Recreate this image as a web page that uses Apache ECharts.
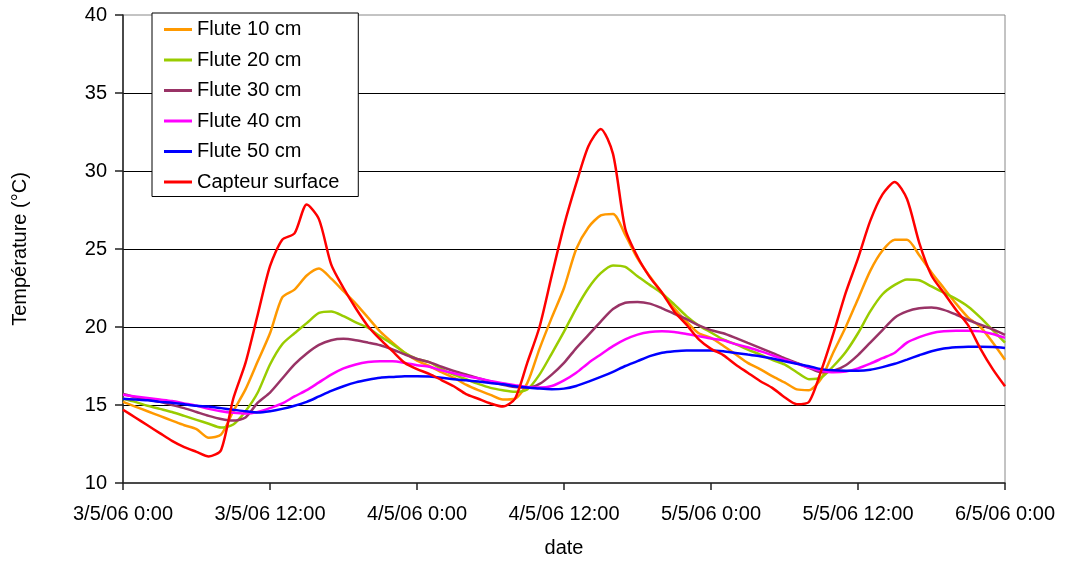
<!DOCTYPE html>
<html>
<head>
<meta charset="utf-8">
<script src="https://cdn.jsdelivr.net/npm/echarts@6/dist/echarts.min.js"></script>
<style>
html,body{margin:0;padding:0;background:#fff;}
#chart{width:1065px;height:563px;}
</style>
</head>
<body>
<div id="chart"></div>
<script>
// hours since 3/5/06 0:00, hourly readings
var hours = [];
for (var i = 0; i <= 72; i++) hours.push(i);

var tickLabels = ['3/5/06 0:00', '3/5/06 12:00', '4/5/06 0:00', '4/5/06 12:00', '5/5/06 0:00', '5/5/06 12:00', '6/5/06 0:00'];

var seriesNames = ['Flute 10 cm', 'Flute 20 cm', 'Flute 30 cm', 'Flute 40 cm', 'Flute 50 cm', 'Capteur surface'];

var flute10 = [15.2,14.9,14.6,14.3,14.0,13.7,13.45,12.9,13.1,14.6,16.0,17.8,19.6,21.9,22.4,23.3,23.75,23.1,22.3,21.5,20.6,19.7,19.0,18.35,17.85,
  17.5,17.1,16.75,16.3,15.95,15.65,15.35,15.4,16.4,18.6,20.6,22.5,25.0,26.4,27.15,27.25,25.9,24.4,23.25,22.2,21.2,20.35,19.6,19.3,
  18.8,18.25,17.7,17.3,16.85,16.45,16.0,15.95,16.7,18.4,20.0,21.8,23.6,24.9,25.6,25.6,24.6,23.5,22.5,21.5,20.6,20.0,19.0,17.9];

var flute20 = [15.4,15.2,14.95,14.75,14.55,14.3,14.05,13.8,13.55,13.75,14.6,15.8,17.6,18.9,19.6,20.25,20.9,21.0,20.7,20.3,19.95,19.4,18.9,18.35,17.95,
  17.75,17.3,16.95,16.65,16.35,16.1,15.95,15.85,16.0,16.95,18.3,19.7,21.2,22.5,23.45,23.95,23.85,23.25,22.7,22.15,21.45,20.7,20.1,19.65,
  19.2,18.9,18.55,18.25,17.9,17.6,17.1,16.65,16.75,17.5,18.4,19.6,21.0,22.1,22.7,23.05,23.0,22.6,22.2,21.8,21.3,20.6,19.8,19.0];

var flute30 = [15.7,15.5,15.35,15.2,15.0,14.8,14.55,14.3,14.1,14.0,14.2,15.15,15.8,16.7,17.6,18.3,18.85,19.15,19.24,19.15,19.0,18.83,18.56,18.24,17.95,
  17.75,17.45,17.18,16.96,16.71,16.5,16.3,16.15,16.1,16.35,16.95,17.7,18.65,19.5,20.35,21.15,21.55,21.6,21.5,21.2,20.85,20.5,20.1,19.8,
  19.6,19.3,18.98,18.66,18.34,18.0,17.7,17.38,17.1,17.2,17.55,18.2,19.0,19.8,20.6,21.0,21.2,21.25,21.1,20.8,20.45,20.15,19.85,19.5];

var flute40 = [15.65,15.55,15.45,15.35,15.25,15.1,14.95,14.75,14.6,14.5,14.45,14.55,14.8,15.1,15.55,15.95,16.45,16.95,17.35,17.6,17.75,17.8,17.8,17.7,17.55,
  17.45,17.22,17.03,16.86,16.71,16.54,16.39,16.27,16.16,16.12,16.22,16.58,17.07,17.7,18.24,18.77,19.2,19.51,19.68,19.72,19.68,19.55,19.41,19.26,
  19.15,18.9,18.7,18.45,18.19,17.9,17.65,17.4,17.2,17.1,17.15,17.35,17.65,18.0,18.35,19.0,19.35,19.6,19.72,19.76,19.76,19.72,19.55,19.3];

var flute50 = [15.4,15.35,15.3,15.2,15.15,15.05,14.95,14.9,14.8,14.7,14.6,14.52,14.6,14.75,14.95,15.2,15.55,15.9,16.2,16.45,16.62,16.75,16.8,16.85,16.85,
  16.82,16.75,16.65,16.58,16.5,16.41,16.33,16.2,16.12,16.05,16.01,16.05,16.22,16.5,16.8,17.13,17.5,17.81,18.13,18.35,18.45,18.5,18.5,18.5,
  18.45,18.34,18.23,18.13,17.98,17.8,17.64,17.49,17.3,17.22,17.2,17.2,17.26,17.43,17.64,17.91,18.19,18.45,18.62,18.7,18.74,18.74,18.72,18.66];

var surface = [14.7,14.2,13.7,13.2,12.7,12.3,12.0,11.7,12.1,15.4,17.7,20.8,23.9,25.6,26.0,27.85,26.9,24.0,22.5,21.2,20.05,19.2,18.45,17.7,17.3,
  17.0,16.6,16.2,15.7,15.4,15.1,14.9,15.4,17.7,20.0,23.3,26.5,29.2,31.6,32.7,31.1,26.3,24.5,23.2,22.2,21.0,20.15,19.2,18.6,
  18.2,17.6,17.07,16.54,16.1,15.5,15.05,15.2,17.2,19.6,22.2,24.4,26.8,28.5,29.3,28.2,25.4,23.3,22.2,21.1,20.1,18.6,17.3,16.2];

var colors = ['#FF9900', '#99CC00', '#993366', '#FF00FF', '#0000FF', '#FF0000'];
var allValues = [flute10, flute20, flute30, flute40, flute50, surface];

function pairs(vals) {
  return hours.map(function (h, i) { return [h, vals[i]]; });
}

var FONT = "'Liberation Sans', Arial, Helvetica, sans-serif";
var chart = echarts.init(document.getElementById('chart'), null, {renderer: 'canvas'});

var series = seriesNames.map(function (name, k) {
  return {
    name: name,
    type: 'line',
    data: pairs(allValues[k]),
    symbol: 'none',
    smooth: 0.25,
    lineStyle: {color: colors[k], width: 2.5},
    itemStyle: {color: colors[k]},
    animation: false
  };
});

chart.setOption({
  animation: false,
  color: colors,
  grid: {left: 123, right: 60, top: 15, bottom: 77, show: true, borderColor: '#888', borderWidth: 1, backgroundColor: 'transparent'},
  legend: {
    left: 152, top: 13, orient: 'vertical',
    backgroundColor: '#fff', borderColor: '#000', borderWidth: 1,
    padding: [5, 19, 3, 12],
    icon: 'rect',
    itemWidth: 28, itemHeight: 3, itemGap: 7.5,
    textStyle: {fontFamily: FONT, fontSize: 20, color: '#000', lineHeight: 23},
    data: seriesNames
  },
  xAxis: {
    type: 'value', min: 0, max: 72, interval: 12,
    name: 'date', nameLocation: 'middle', nameGap: 55,
    nameTextStyle: {fontFamily: FONT, fontSize: 20, color: '#000'},
    axisLine: {show: true, onZero: false, lineStyle: {color: '#222', width: 1.5}},
    axisTick: {show: true, length: 7, lineStyle: {color: '#222', width: 1.5}},
    axisLabel: {fontFamily: FONT, fontSize: 20, color: '#000', margin: 21,
      formatter: function (v) { return tickLabels[Math.round(v / 12)]; }},
    splitLine: {show: false}
  },
  yAxis: {
    type: 'value', min: 10, max: 40, interval: 5,
    name: 'Température (°C)', nameLocation: 'middle', nameGap: 93,
    nameTextStyle: {fontFamily: FONT, fontSize: 20, color: '#000'},
    axisLine: {show: true, onZero: false, lineStyle: {color: '#222', width: 1.5}},
    axisTick: {show: true, length: 8, lineStyle: {color: '#222', width: 1.5}},
    axisLabel: {fontFamily: FONT, fontSize: 20, color: '#000', margin: 16},
    splitLine: {show: true, showMaxLine: false, showMinLine: false, lineStyle: {color: '#000', width: 1}}
  },
  series: series
});
</script>
</body>
</html>
